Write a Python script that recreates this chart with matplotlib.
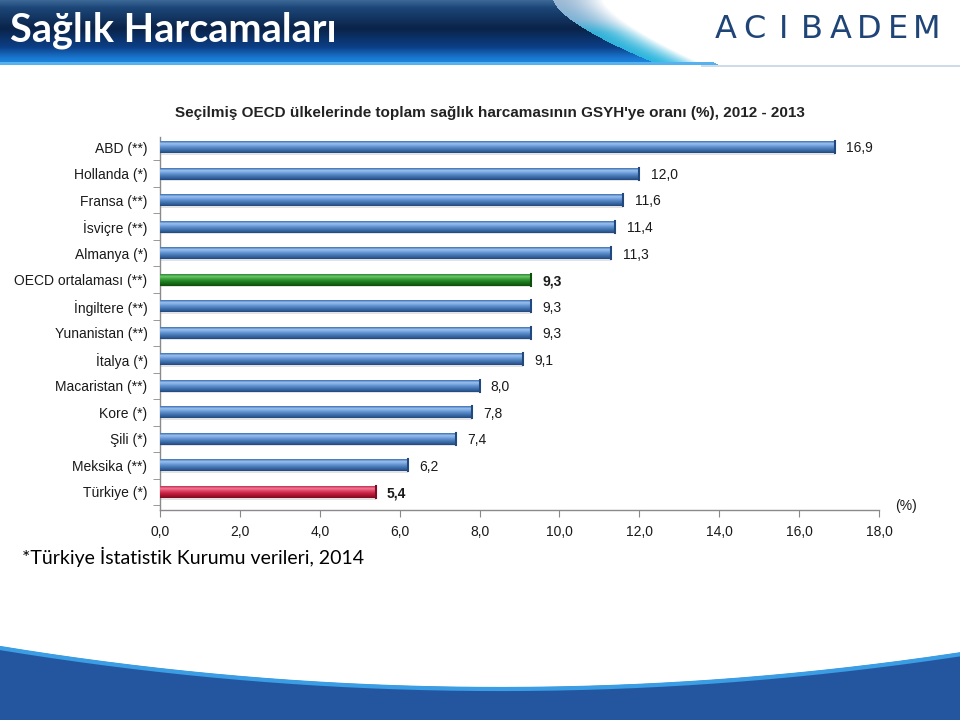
import numpy as np
import matplotlib
matplotlib.use("Agg")
import matplotlib.pyplot as plt
from matplotlib.colors import to_rgb

categories = ["ABD (**)", "Hollanda (*)", "Fransa (**)", "İsviçre (**)", "Almanya (*)",
              "OECD ortalaması (**)", "İngiltere (**)", "Yunanistan (**)", "İtalya (*)",
              "Macaristan (**)", "Kore (*)", "Şili (*)", "Meksika (**)", "Türkiye (*)"]
values = [16.9, 12.0, 11.6, 11.4, 11.3, 9.3, 9.3, 9.3, 9.1, 8.0, 7.8, 7.4, 6.2, 5.4]
xticks = [0, 2, 4, 6, 8, 10, 12, 14, 16, 18]
xtick_labels = ["0,0", "2,0", "4,0", "6,0", "8,0", "10,0", "12,0", "14,0", "16,0", "18,0"]
highlight = {"OECD ortalaması (**)": "green", "Türkiye (*)": "red"}

slide_title = "Sağlık Harcamaları"
chart_title = "Seçilmiş OECD ülkelerinde toplam sağlık harcamasının GSYH'ye oranı (%), 2012 - 2013"
footer = "*Türkiye İstatistik Kurumu verileri, 2014"
logo = "ACIBADEM"

W, H = 960, 720
fig = plt.figure(figsize=(9.6, 7.2), dpi=100)
fig.patch.set_facecolor("white")

# ---------- background (banner + bottom wave) ----------
bg = fig.add_axes([0, 0, 1, 1], zorder=0)
bg.set_xlim(0, W)
bg.set_ylim(H, 0)
bg.axis("off")

bh = 70
yy, xx = np.mgrid[0:bh, 0:W].astype(float)
t = yy / 62.0


def ramp(tv, stops, colors):
    rgbs = np.array([to_rgb(c) for c in colors])
    out = np.zeros(tv.shape + (3,))
    for c in range(3):
        out[..., c] = np.interp(tv, stops, rgbs[:, c])
    return out


navy = ramp(t, [0, 0.12, 0.45, 0.75, 0.93, 1.0],
            ["#3b6796", "#1c4677", "#0a2349", "#0c3f86", "#1a78d2", "#1f86dc"])
yr = np.clip(yy / 64.0, 0, 1)
xb = 553 + 105 * yr ** 1.5
xw = 603 + 100 * yr ** 1.4
band_left = ramp(yr, [0, 0.3, 0.5, 1.0], ["#9db9d4", "#7fb4d6", "#34b2d8", "#2cb8e0"])
frac = np.clip((xx - xb) / np.maximum(xw - xb, 1), 0, 1)
band = band_left * (1 - frac[..., None] ** 1.8) + np.ones(3) * (frac[..., None] ** 1.8)
img = np.where((xx < xb)[..., None], navy, band)
img = np.where((xx >= xw)[..., None], np.ones(3), img)
# light line under banner
line_zone = (yy >= 62) & (yy < 65)
img[line_zone & (xx < xb + 60)] = to_rgb("#56b2ee")
img[(yy >= 65)] = 1.0
grey_line = (yy >= 65) & (yy < 67) & (xx > 700)
img[grey_line] = to_rgb("#cfdbe6")
bg.imshow(img, extent=(0, W, bh, 0), aspect="auto", zorder=1, interpolation="bilinear")

bg.text(10, 30, slide_title, color="white", fontsize=28.5, fontweight="bold",
        family="Lato", va="center", ha="left", zorder=3)
for i, ch in enumerate(logo):
    bg.text(726 + i * 28.7, 30, ch, color="#1f4477", fontsize=23, family="DejaVu Sans",
            fontweight="normal", va="center", ha="center", zorder=3)

xs = np.linspace(0, W, 400)
curve = 688 - 41 * ((xs - 500) / 500) ** 2
bg.fill_between(xs, curve, H, color="#24569f", zorder=1)
bg.plot(xs, curve + 1, color="#3b9de3", lw=3, zorder=2)

fig.text(22 / W, 1 - 557 / H, footer, fontsize=14, family="Lato", color="black",
         va="center", ha="left")
fig.text(490 / W, 1 - 113 / H, chart_title, fontsize=11, fontweight="bold",
         family="Liberation Sans", color="#222222", va="center", ha="center")

# ---------- chart ----------
ax = fig.add_axes([160 / W, 1 - 510 / H, (879 - 160) / W, (510 - 137) / H], zorder=2)
ax.patch.set_alpha(0)
n = len(categories)
ypos = np.arange(n)[::-1]
bar_h = 0.45

grads = {
    "blue": ["#3c6fb2", "#9cc2ee", "#6f9fdc", "#4f81bd", "#3766a2", "#22497e"],
    "green": ["#2e8a2e", "#6fc66f", "#3aa03a", "#238223", "#176817", "#0e4f0e"],
    "red": ["#c4304f", "#f07c96", "#e04465", "#c8203f", "#a5142f", "#7e0b20"],
}

for cat, v, y in zip(categories, values, ypos):
    kind = highlight.get(cat, "blue")
    cols = grads[kind]
    # shadow
    ax.barh(y - 0.06, v, height=bar_h, color="#c8c8c8", alpha=0.5, zorder=1, lw=0)
    bars = ax.barh(y, v, height=bar_h, color=cols[3], zorder=2, lw=0)
    patch = bars[0]
    stops = np.linspace(0, 1, len(cols))
    rows = np.linspace(0, 1, 40)
    g = np.zeros((40, 1, 3))
    rgbs = np.array([to_rgb(c) for c in cols])
    for c in range(3):
        g[:, 0, c] = np.interp(rows, stops, rgbs[:, c])
    im = ax.imshow(g, extent=(0, v, y - bar_h / 2, y + bar_h / 2), origin="upper",
                   aspect="auto", zorder=3, interpolation="bilinear")
    im.set_clip_path(patch)
    # end cap
    ax.plot([v, v], [y - bar_h / 2, y + bar_h / 2], color=cols[-1], lw=1.5, zorder=4)
    bold = cat in highlight
    ax.text(v + 0.28, y - 0.05, f"{v:.1f}".replace(".", ","), va="center", ha="left",
            fontsize=10, family="Liberation Sans", color="#1a1a1a",
            fontweight="bold" if bold else "normal", zorder=5)

ax.set_xlim(0, 18)
ax.set_ylim(-0.68, n - 1 + 0.38)
ax.set_yticks(ypos)
ax.set_yticklabels(categories, fontsize=10, family="Liberation Sans", color="#1a1a1a")
ax.set_yticks(np.arange(n) - 0.5, minor=True)
ax.tick_params(axis="y", which="major", length=0, pad=9)
ax.tick_params(axis="y", which="minor", length=5, color="#888888", direction="out")
ax.set_xticks(xticks)
ax.set_xticklabels(xtick_labels, fontsize=10, family="Liberation Sans", color="#1a1a1a")
ax.tick_params(axis="x", length=5, color="#888888", direction="out", pad=6)
for s in ["top", "right"]:
    ax.spines[s].set_visible(False)
for s in ["left", "bottom"]:
    ax.spines[s].set_color("#8a8a8a")
    ax.spines[s].set_linewidth(1)
ax.text(1.022, 0.012, "(%)", transform=ax.transAxes, fontsize=10,
        family="Liberation Sans", color="#1a1a1a", va="center", ha="left")

fig.savefig("out.png", dpi=100)
